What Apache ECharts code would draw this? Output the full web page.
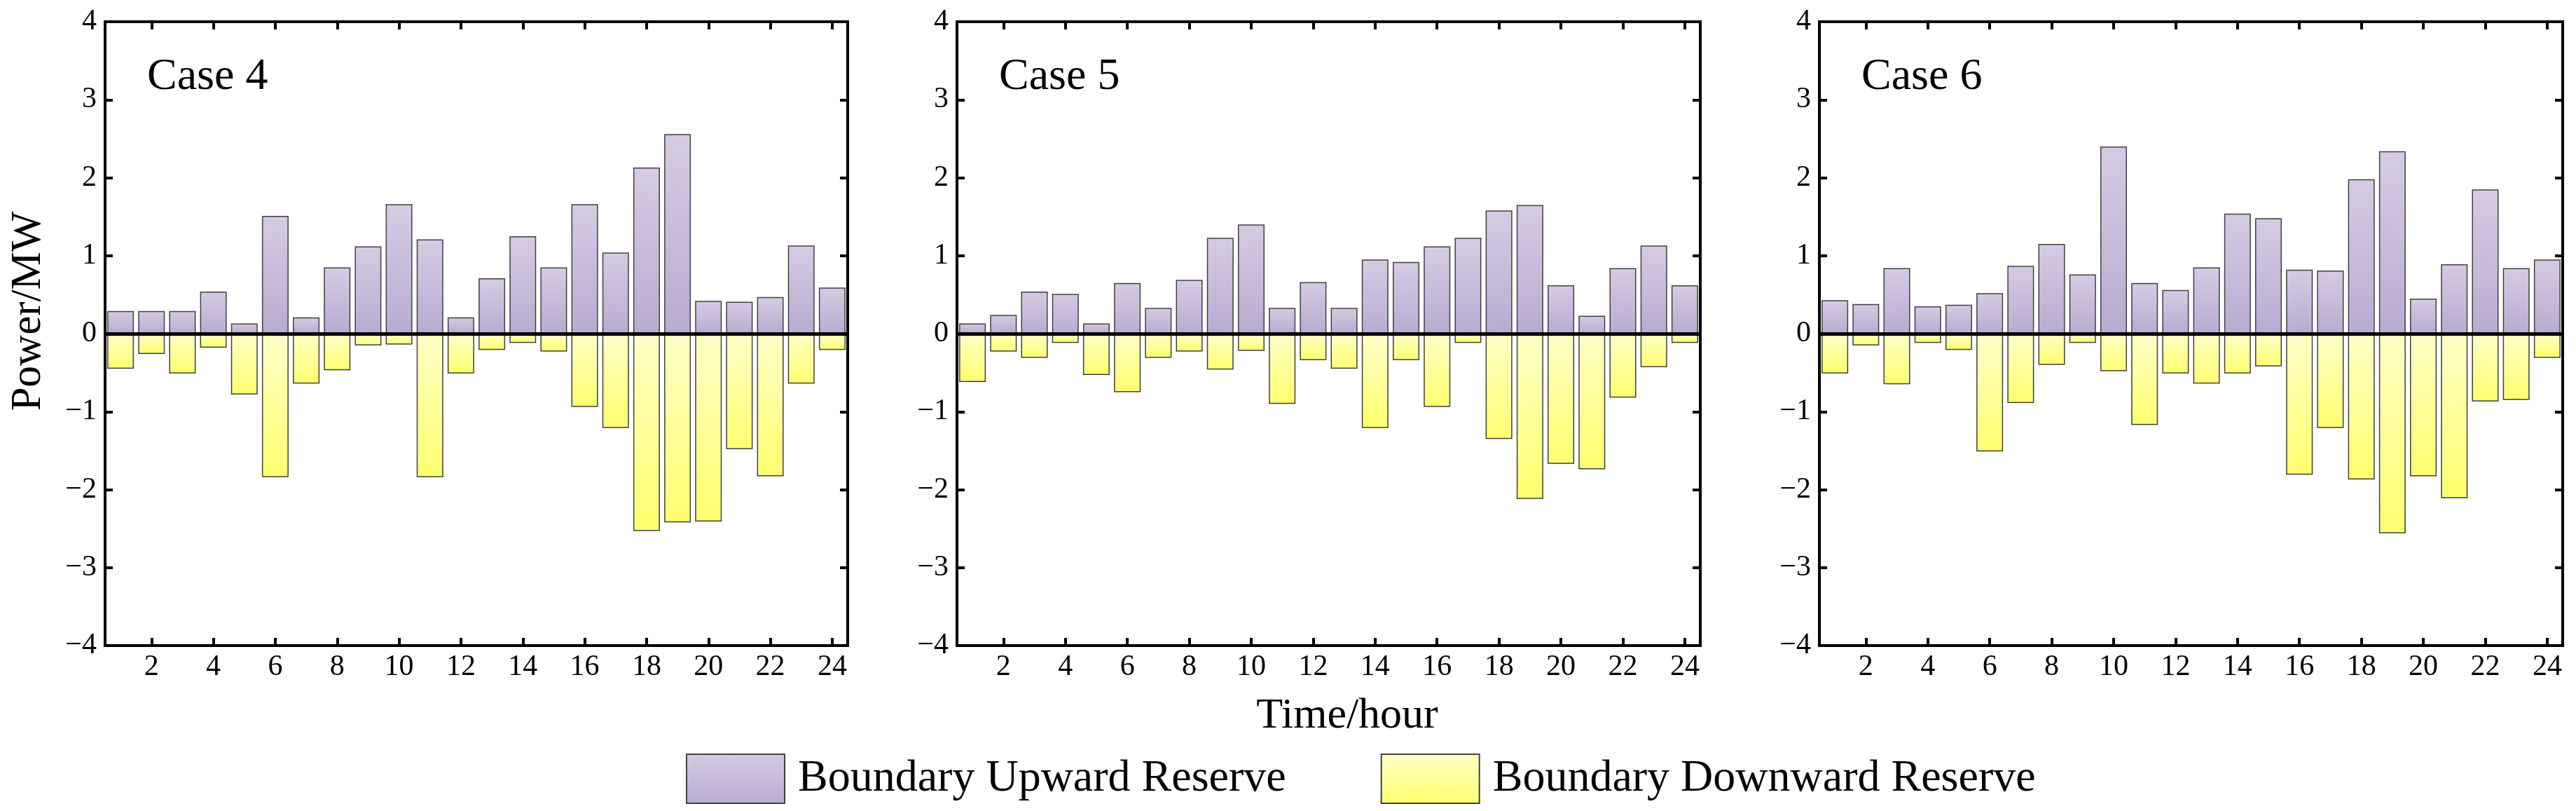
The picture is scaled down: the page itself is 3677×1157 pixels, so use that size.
<!DOCTYPE html>
<html>
<head>
<meta charset="utf-8">
<script src="https://cdn.jsdelivr.net/npm/echarts@6/dist/echarts.min.js"></script>
<style>
  html, body { margin: 0; padding: 0; background: #fff; }
  #chart { width: 3677px; height: 1157px; }
</style>
</head>
<body>
<div id="chart"></div>
<script>
const hours = ["1","2","3","4","5","6","7","8","9","10","11","12","13","14","15","16","17","18","19","20","21","22","23","24"];
const caseNames = ["Case 4", "Case 5", "Case 6"];
const yTicks = [-4, -3, -2, -1, 0, 1, 2, 3, 4];

const case4Up = [0.29, 0.29, 0.29, 0.54, 0.13, 1.51, 0.21, 0.85, 1.12, 1.66, 1.21, 0.21, 0.71, 1.25, 0.85, 1.66, 1.04, 2.13, 2.56, 0.42, 0.41, 0.47, 1.13, 0.59];
const case4Down = [-0.45, -0.26, -0.51, -0.18, -0.78, -1.84, -0.64, -0.47, -0.15, -0.14, -1.84, -0.51, -0.21, -0.12, -0.23, -0.94, -1.21, -2.53, -2.42, -2.41, -1.48, -1.83, -0.64, -0.21];

const case5Up = [0.13, 0.24, 0.54, 0.51, 0.13, 0.65, 0.33, 0.69, 1.23, 1.40, 0.33, 0.66, 0.33, 0.95, 0.92, 1.12, 1.23, 1.58, 1.65, 0.62, 0.23, 0.84, 1.13, 0.62];
const case5Down = [-0.62, -0.23, -0.31, -0.12, -0.53, -0.75, -0.31, -0.23, -0.46, -0.22, -0.90, -0.34, -0.45, -1.21, -0.34, -0.94, -0.12, -1.35, -2.12, -1.67, -1.74, -0.82, -0.43, -0.12];

const case6Up = [0.43, 0.38, 0.84, 0.35, 0.37, 0.52, 0.87, 1.15, 0.76, 2.40, 0.65, 0.56, 0.85, 1.54, 1.48, 0.82, 0.81, 1.98, 2.34, 0.45, 0.89, 1.85, 0.84, 0.95];
const case6Down = [-0.51, -0.15, -0.65, -0.12, -0.21, -1.51, -0.89, -0.40, -0.12, -0.48, -1.17, -0.51, -0.64, -0.51, -0.42, -1.81, -1.21, -1.87, -2.56, -1.83, -2.11, -0.87, -0.85, -0.31];

const upSets = [case4Up, case5Up, case6Up];
const downSets = [case4Down, case5Down, case6Down];

const FONT = 'Liberation Serif';
const gridLefts = [150, 1366, 2597];
const gridWidths = [1060, 1061, 1061];

const upColor = new echarts.graphic.LinearGradient(0, 0, 0, 1, [
  { offset: 0, color: '#d6cbe3' },
  { offset: 1, color: '#b9abd1' }
]);
const downColor = new echarts.graphic.LinearGradient(0, 0, 0, 1, [
  { offset: 0, color: '#ffffc8' },
  { offset: 1, color: '#ffff6e' }
]);

const evenOnly = (index) => index % 2 === 1;
const axisLine = { show: true, onZero: false, lineStyle: { color: '#000', width: 4, cap: 'square' } };
const tick = { show: true, inside: true, length: 11, lineStyle: { color: '#000', width: 4 } };

const grids = [], xAxes = [], yAxes = [], series = [], graphics = [];

for (let i = 0; i < 3; i++) {
  grids.push({ left: gridLefts[i], top: 31, width: gridWidths[i], height: 890 });

  xAxes.push({
    gridIndex: i, type: 'category', data: hours, position: 'bottom',
    axisLine: axisLine,
    axisTick: Object.assign({}, tick, { alignWithLabel: true, interval: evenOnly }),
    axisLabel: { interval: evenOnly, fontFamily: FONT, fontSize: 42, color: '#000', margin: 10 },
    splitLine: { show: false }
  });
  xAxes.push({
    gridIndex: i, type: 'category', data: hours, position: 'top',
    axisLine: axisLine,
    axisTick: Object.assign({}, tick, { alignWithLabel: true, interval: evenOnly }),
    axisLabel: { show: false },
    splitLine: { show: false }
  });
  yAxes.push({
    gridIndex: i, type: 'value', position: 'left',
    min: yTicks[0], max: yTicks[yTicks.length - 1], interval: 1,
    axisLine: axisLine, axisTick: tick,
    axisLabel: {
      fontFamily: FONT, fontSize: 42, color: '#000', margin: 12,
      formatter: (v) => v < 0 ? '\u2212' + (-v) : String(v)
    },
    splitLine: { show: false }
  });
  yAxes.push({
    gridIndex: i, type: 'value', position: 'right',
    min: yTicks[0], max: yTicks[yTicks.length - 1], interval: 1,
    axisLine: axisLine, axisTick: tick,
    axisLabel: { show: false },
    splitLine: { show: false }
  });

  series.push({
    name: 'Boundary Upward Reserve', type: 'bar',
    xAxisIndex: 2 * i, yAxisIndex: 2 * i,
    data: upSets[i], barWidth: '86%', barGap: '-100%',
    itemStyle: { color: upColor, borderColor: '#404040', borderWidth: 1.5 },
    emphasis: { disabled: true }
  });
  series.push({
    name: 'Boundary Downward Reserve', type: 'bar',
    xAxisIndex: 2 * i, yAxisIndex: 2 * i,
    data: downSets[i], barWidth: '86%', barGap: '-100%',
    itemStyle: { color: downColor, borderColor: '#404040', borderWidth: 1.5 },
    emphasis: { disabled: true },
    markLine: {
      silent: true, z: 10, symbol: ['none', 'none'], label: { show: false },
      lineStyle: { color: '#000', width: 5, type: 'solid' },
      emphasis: { disabled: true },
      data: [{ yAxis: 0 }]
    }
  });

  graphics.push({
    type: 'text', left: gridLefts[i] + 60, top: 78,
    style: { text: caseNames[i], fontFamily: FONT, fontSize: 64, fill: '#000' }
  });
}

graphics.push({
  type: 'text', x: 41, y: 444, rotation: Math.PI / 2,
  style: { text: 'Power/MW', fontFamily: FONT, fontSize: 61, fill: '#000', textAlign: 'center', textVerticalAlign: 'middle' }
});
graphics.push({
  type: 'text', x: 1923, y: 1022,
  style: { text: 'Time/hour', fontFamily: FONT, fontSize: 62, fill: '#000', textAlign: 'center', textVerticalAlign: 'middle' }
});

const option = {
  animation: false,
  backgroundColor: '#fff',
  grid: grids,
  xAxis: xAxes,
  yAxis: yAxes,
  legend: {
    left: 974, top: 1070,
    itemWidth: 140, itemHeight: 70, itemGap: 135,
    icon: 'rect',
    itemStyle: { borderColor: '#404040', borderWidth: 2 },
    textStyle: { fontFamily: FONT, fontSize: 64, color: '#000', padding: [0, 0, 0, 14] },
    data: ['Boundary Upward Reserve', 'Boundary Downward Reserve']
  },
  graphic: graphics,
  series: series
};

const chart = echarts.init(document.getElementById('chart'));
chart.setOption(option);
</script>
</body>
</html>
